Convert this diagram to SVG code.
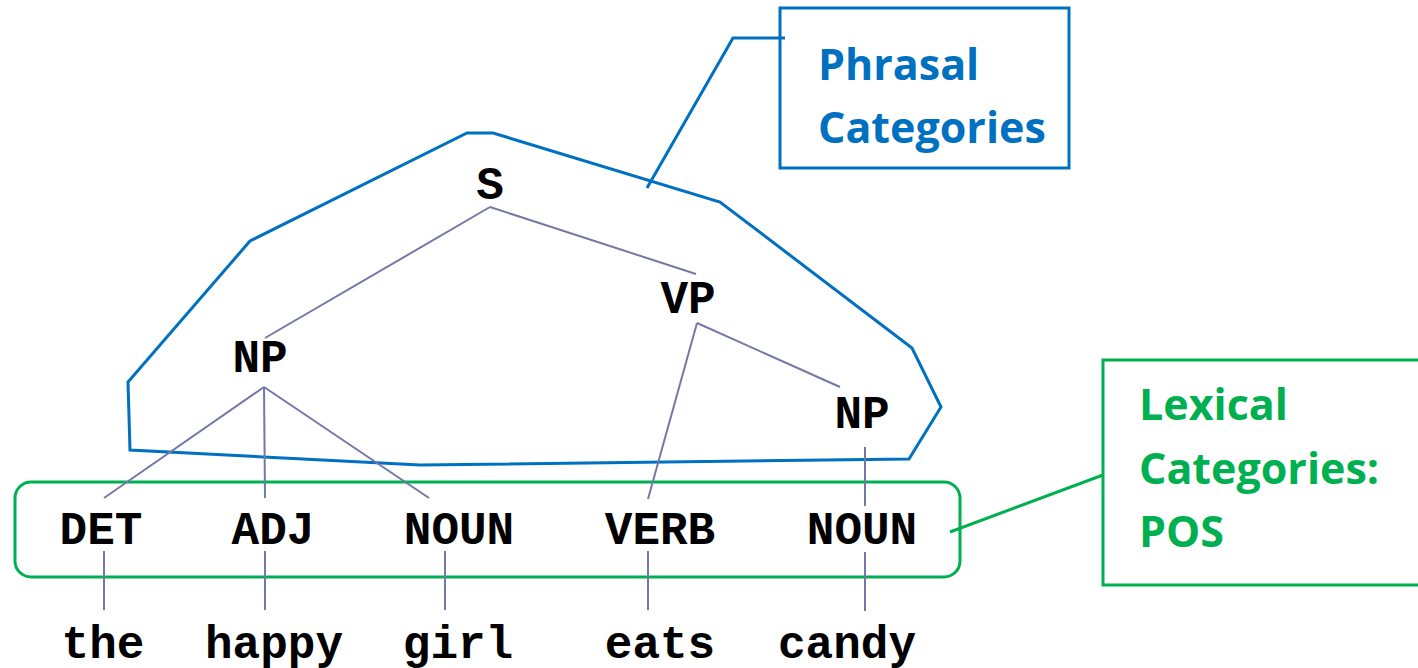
<svg xmlns="http://www.w3.org/2000/svg" width="1418" height="668" viewBox="0 0 1418 668">
<style>
.t{font-family:"Liberation Mono","Courier New",monospace;font-weight:bold;font-size:46px;fill:#000;text-anchor:middle}
.e{stroke:#7478A6;stroke-width:2;fill:none}
.lb{font-family:"Open Sans","Noto Sans",sans-serif;font-weight:bold;font-size:43px}
</style>
<rect width="1418" height="668" fill="#fff"/>
<g id="phrasal-region">
<polygon points="467,133 493,133 720,202 912,348 941,407 909,459 420,465 130,450 128,382 250,241" fill="none" stroke="#0070C0" stroke-width="3"/>
</g>
<g id="lexical-region">
<rect x="15" y="482" width="945" height="95" rx="16" fill="none" stroke="#00B050" stroke-width="3"/>
</g>
<g id="connectors">
<line class="e" x1="490" y1="207" x2="265" y2="338"/>
<line class="e" x1="490" y1="207" x2="696" y2="274"/>
<line class="e" x1="697" y1="323" x2="648" y2="499"/>
<line class="e" x1="697" y1="323" x2="840" y2="387"/>
<line class="e" x1="865" y1="447" x2="865" y2="506"/>
<line class="e" x1="264" y1="387" x2="104" y2="498"/>
<line class="e" x1="264" y1="387" x2="265" y2="498"/>
<line class="e" x1="264" y1="387" x2="429" y2="498"/>
<line class="e" x1="104" y1="551" x2="104" y2="610"/>
<line class="e" x1="265" y1="551" x2="265" y2="610"/>
<line class="e" x1="445" y1="551" x2="445" y2="610"/>
<line class="e" x1="648" y1="551" x2="648" y2="610"/>
<line class="e" x1="865" y1="552" x2="865" y2="611"/>
<polyline points="647,188 733,38 785,38" fill="none" stroke="#0070C0" stroke-width="3"/>
<line x1="950" y1="532" x2="1103" y2="475" stroke="#00B050" stroke-width="3"/>
</g>
<g id="node-S"><text class="t" x="490" y="199">S</text></g>
<g id="node-VP"><text class="t" x="688" y="313">VP</text></g>
<g id="node-NP1"><text class="t" x="260" y="372">NP</text></g>
<g id="node-NP2"><text class="t" x="862" y="428">NP</text></g>
<g id="node-DET"><text class="t" x="101" y="544">DET</text></g>
<g id="node-ADJ"><text class="t" x="273" y="544">ADJ</text></g>
<g id="node-NOUN1"><text class="t" x="459" y="544">NOUN</text></g>
<g id="node-VERB"><text class="t" x="660" y="544">VERB</text></g>
<g id="node-NOUN2"><text class="t" x="862" y="544">NOUN</text></g>
<g id="word-the"><text class="t" x="103" y="658">the</text></g>
<g id="word-happy"><text class="t" x="274" y="658">happy</text></g>
<g id="word-girl"><text class="t" x="458" y="658">girl</text></g>
<g id="word-eats"><text class="t" x="660" y="658">eats</text></g>
<g id="word-candy"><text class="t" x="847" y="658">candy</text></g>
<g id="label-phrasal">
<rect x="780" y="8" width="289" height="160" fill="none" stroke="#0070C0" stroke-width="3"/>
<text class="lb" fill="#0070C0"><tspan x="818" y="80">Phrasal</tspan><tspan x="818" y="143">Categories</tspan></text>
</g>
<g id="label-lexical">
<rect x="1103" y="360" width="330" height="225" fill="none" stroke="#00B050" stroke-width="3"/>
<text class="lb" fill="#00B050"><tspan x="1139" y="420">Lexical</tspan><tspan x="1139" y="484">Categories:</tspan><tspan x="1139" y="547">POS</tspan></text>
</g>
</svg>
